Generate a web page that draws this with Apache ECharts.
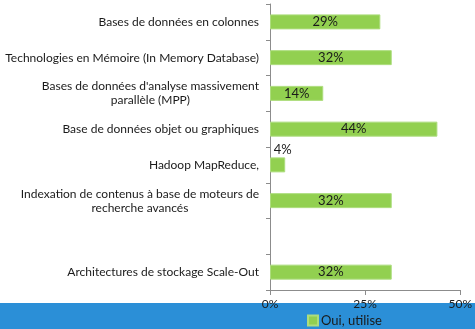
<!DOCTYPE html>
<html>
<head>
<meta charset="utf-8">
<script src="https://cdn.jsdelivr.net/npm/echarts@6/dist/echarts.min.js"></script>
<style>
  html, body { margin: 0; padding: 0; background: #fff; }
  #chart { width: 475px; height: 329px; }
</style>
</head>
<body>
<div id="chart"></div>
<script>
// Technologies (top to bottom); the blank entry leaves an empty row
var categories = [
  'Bases de données en colonnes',
  'Technologies en Mémoire (In Memory Database)',
  "Bases de données d'analyse massivement\nparallèle (MPP)",
  'Base de données objet ou graphiques',
  'Hadoop MapReduce,',
  'Indexation de contenus à base de moteurs de\nrecherche avancés',
  '',
  'Architectures de stockage Scale-Out'
];
// Share of respondents already using each technology (%)
var usage = [29, 32, 14, 44, 4, 32, null, 32];
var seriesName = 'Oui, utilise';
var xTicks = [0, 25, 50];

var FONT = 'Lato';
var TEXT = '#1a1a1a';
var GREEN = '#92d050';

var barData = usage.map(function (v) {
  if (v !== null && v < 8) {
    return { value: v, label: { position: 'top', offset: [5, 0], distance: 1 } };
  }
  return v;
});

// Multi-line category labels: first line right-aligned, following lines centred
function catLabel(val) {
  var lines = val.split('\n');
  if (lines.length === 1) return val;
  return lines.map(function (l, i) {
    return i === 0 ? '{a|' + l + '}' : '{c|' + l + '}';
  }).join('\n');
}

var chart = echarts.init(document.getElementById('chart'), null, { renderer: 'canvas' });
chart.setOption({
  animation: false,
  backgroundColor: '#ffffff',
  textStyle: { fontFamily: FONT },
  grid: { left: 270, right: 12, top: 4, bottom: 39, containLabel: false },
  graphic: [{
    type: 'rect',
    left: 0, top: 303, z: -10,
    shape: { width: 475, height: 26 },
    style: { fill: '#2b8fd7' }
  }],
  legend: {
    data: [seriesName],
    left: 307, top: 314, padding: 0,
    icon: 'rect', itemWidth: 10, itemHeight: 10, itemGap: 4,
    textStyle: { fontFamily: FONT, fontSize: 13, color: TEXT, padding: [0, 0, 0, -2] }
  },
  xAxis: {
    type: 'value', min: xTicks[0], max: xTicks[xTicks.length - 1], interval: 25,
    z: 5,
    axisLine: { show: true, lineStyle: { color: '#8c8c8c', width: 1 } },
    axisTick: { show: true, length: 5, lineStyle: { color: '#8c8c8c' } },
    splitLine: { show: false },
    axisLabel: { formatter: '{value}%', fontFamily: FONT, fontSize: 12, color: TEXT, margin: 8 }
  },
  yAxis: {
    type: 'category', inverse: true, data: categories,
    axisLine: { show: true, lineStyle: { color: '#8c8c8c', width: 1 } },
    axisTick: { show: true, length: 4, lineStyle: { color: '#8c8c8c' } },
    axisLabel: {
      fontFamily: FONT, fontSize: 12, color: TEXT, margin: 11, lineHeight: 14,
      formatter: catLabel,
      rich: {
        a: { fontFamily: FONT, fontSize: 12, color: TEXT, lineHeight: 14 },
        c: { fontFamily: FONT, fontSize: 12, color: TEXT, lineHeight: 14, align: 'center' }
      }
    }
  },
  series: [{
    name: seriesName,
    type: 'bar',
    data: barData,
    barWidth: 15,
    itemStyle: { color: GREEN, borderColor: '#addd7e', borderWidth: 1 },
    label: {
      show: true, position: 'inside', formatter: '{c}%',
      fontFamily: FONT, fontSize: 13, color: TEXT
    }
  }]
});
</script>
</body>
</html>
